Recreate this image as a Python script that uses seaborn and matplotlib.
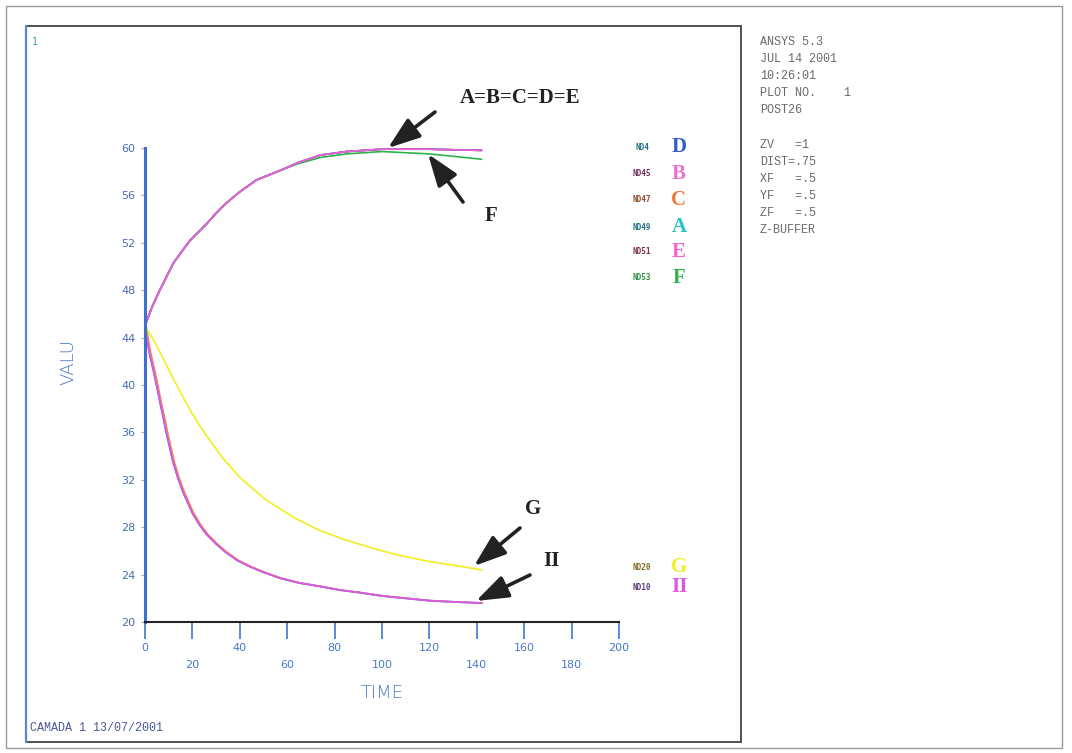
import numpy as np
import pandas as pd
import matplotlib
matplotlib.use("Agg")
import matplotlib.pyplot as plt
from matplotlib.patches import Rectangle, FancyArrowPatch
import seaborn as sns

# ---------------- data ----------------
t_up = [0, 3, 6, 9, 12, 16, 19, 23, 26, 30, 34, 40, 47, 57, 65, 74, 85, 100, 110, 120, 130, 142]
v_up = [45.0, 46.6, 47.9, 49.1, 50.3, 51.4, 52.2, 53.0, 53.6, 54.5, 55.3, 56.3, 57.3, 58.1, 58.8, 59.4, 59.7, 59.9, 59.9, 59.9, 59.85, 59.8]

t_f = [0, 3, 6, 9, 12, 16, 19, 23, 26, 30, 34, 40, 47, 57, 65, 74, 85, 100, 110, 120, 130, 142]
v_f = [45.0, 46.6, 47.9, 49.1, 50.3, 51.4, 52.2, 53.0, 53.6, 54.5, 55.3, 56.3, 57.3, 58.1, 58.7, 59.2, 59.5, 59.7, 59.6, 59.5, 59.3, 59.05]

t_g = [0, 3, 6, 9, 12, 16, 19, 23, 26, 33, 40, 51, 63, 74, 85, 100, 108, 120, 130, 142]
v_g = [45.0, 44.0, 42.9, 41.7, 40.5, 39.0, 37.9, 36.6, 35.7, 33.8, 32.2, 30.3, 28.8, 27.7, 26.9, 26.0, 25.6, 25.1, 24.8, 24.4]

t_h = [0, 1, 2, 3.5, 5, 6.3, 8, 9, 10.5, 12, 14, 16, 18, 20, 23, 26, 30, 34, 39, 44, 50, 57, 65, 74, 82, 90, 100, 110, 120, 130, 142]
v_h = [44.9, 43.7, 42.6, 41.3, 39.9, 38.6, 37.0, 36.0, 34.7, 33.4, 32.1, 31.0, 30.1, 29.2, 28.2, 27.4, 26.6, 25.9, 25.2, 24.7, 24.2, 23.7, 23.3, 23.0, 22.7, 22.5, 22.2, 22.0, 21.8, 21.7, 21.6]

series_names = ["D", "B", "C", "A", "E", "F", "G", "II"]
series_codes = ["ND4", "ND45", "ND47", "ND49", "ND51", "ND53", "ND20", "ND10"]
series_colors = ["#2f5fc4", "#f26fd2", "#f07a3a", "#22c4c4", "#f064d6", "#2fb24a", "#f2ee20", "#e056e6"]
legend_label_colors = ["#1f6f7f", "#6a3060", "#8a4a30", "#1f6f7f", "#7a3050", "#2f8f40", "#7a6a20", "#5a3a7a"]

x_ticks = list(range(0, 201, 20))
y_ticks = list(range(20, 61, 4))
y_labels = ["20", "24", "28", "32", "36", "40", "44", "48", "52", "56", "60"]
x_labels = [str(v) for v in x_ticks]

info_lines = ["ANSYS 5.3", "JUL 14 2001", "10:26:01", "PLOT NO.    1", "POST26", "",
              "ZV   =1", "DIST=.75", "XF   =.5", "YF   =.5", "ZF   =.5", "Z-BUFFER"]

# ---------------- build table ----------------
curve_src = {"D": (t_up, v_up), "B": (t_up, v_up), "C": (t_up, v_up), "A": (t_up, v_up),
             "E": (t_up, v_up), "F": (t_f, v_f), "G": (t_g, v_g), "II": (t_h, v_h)}
rows = []
for name in series_names:
    tt, vv = curve_src[name]
    for a, b in zip(tt, vv):
        rows.append({"TIME": a, "VALU": b, "series": name})
df = pd.DataFrame(rows)
palette = dict(zip(series_names, series_colors))

# ---------------- figure ----------------
sns.set_theme(style="white")
plt.rcParams["font.family"] = ["DejaVu Sans"]
W, H = 1072, 753
fig = plt.figure(figsize=(W / 100, H / 100), dpi=100)
fig.patch.set_facecolor("white")

def fx(px):
    return px / W

def fy(py):
    return 1 - py / H

# frames
fig.add_artist(Rectangle((fx(6), fy(748)), fx(1062) - fx(6), fy(6) - fy(748),
                         transform=fig.transFigure, fill=False, ec="#9a9a9a", lw=1.0))
fig.add_artist(Rectangle((fx(26), fy(742)), fx(741) - fx(26), fy(26) - fy(742),
                         transform=fig.transFigure, fill=False, ec="#333333", lw=1.2))
fig.add_artist(plt.Line2D([fx(26), fx(26)], [fy(742), fy(26)], transform=fig.transFigure,
                          color="#5a86d6", lw=1.6))

ax = fig.add_axes([fx(145), fy(622), fx(619) - fx(145), fy(148) - fy(622)])
ax.set_facecolor("none")

# shadow of the lower curve (blue / orange edges seen in the reference)
sns.lineplot(x=t_h, y=v_h, ax=ax, color="#3a6ad0", lw=1.4, legend=False, estimator=None)
sns.lineplot(x=[v + 0.6 for v in t_h], y=v_h, ax=ax, color="#f08a50", lw=1.0, legend=False,
             estimator=None)

draw_order = ["G", "II", "F", "A", "C", "B", "D", "E"]
sub = df[df["series"].isin(draw_order)]
sns.lineplot(data=sub, x="TIME", y="VALU", hue="series", hue_order=draw_order,
             palette=palette, ax=ax, legend=False, lw=1.2, estimator=None, sort=True)

ax.set_xlim(0, 200)
ax.set_ylim(20, 60)
for s in ["top", "right"]:
    ax.spines[s].set_visible(False)
ax.spines["left"].set_color("#3f6fd0")
ax.spines["left"].set_linewidth(2.2)
ax.spines["bottom"].set_color("#222222")
ax.spines["bottom"].set_linewidth(1.5)

ax.set_xticks(x_ticks)
ax.set_xticklabels([lab if i % 2 == 0 else "\n" + lab for i, lab in enumerate(x_labels)],
                   fontsize=8, color="#4a78c8", linespacing=1.9)
ax.tick_params(axis="x", bottom=True, direction="out", length=12, width=1.4,
               color="#5a8ad8", pad=3)
ax.set_yticks(y_ticks)
ax.set_yticklabels(y_labels, fontsize=8, color="#4a6ab0")
ax.tick_params(axis="y", left=True, direction="out", length=3, width=0.8, color="#aaaaaa", pad=4)
ax.set_xlabel("TIME", fontsize=13, color="#4a78c8", labelpad=10, fontweight="light")
ax.set_ylabel("")
fig.text(fx(68), fy(362), "VALU", rotation=90, fontsize=13, color="#4a78c8",
         ha="center", va="center", fontweight="light")

# legend (codes + big letters)
leg_y = [147, 174, 200, 227, 252, 278, 567, 587]
for name, code, col, lcol, py in zip(series_names, series_codes, series_colors, legend_label_colors, leg_y):
    fig.text(fx(642), fy(py), code, fontsize=5.5, color=lcol, ha="center", va="center",
             family="DejaVu Sans Mono", fontweight="bold")
    fig.text(fx(679), fy(py), name, fontsize=15, color=col, ha="center", va="center",
             family="Liberation Serif", fontweight="bold")

# annotations
arrow_kw = dict(arrowstyle="-|>,head_length=1.4,head_width=0.5", color="#222222", lw=2.6,
                shrinkA=0, shrinkB=0, mutation_scale=14)
annots = [("A=B=C=D=E", 520, 98, 435, 112, 388, 148),
          ("F", 491, 216, 463, 202, 428, 154),
          ("G", 533, 509, 520, 528, 474, 566),
          ("II", 552, 561, 530, 575, 476, 601)]
for txt, tx, ty, ax0, ay0, ax1, ay1 in annots:
    fig.text(fx(tx), fy(ty), txt, fontsize=15, color="#222222", ha="center", va="center",
             family="Liberation Serif", fontweight="bold")
    fig.add_artist(FancyArrowPatch((fx(ax0), fy(ay0)), (fx(ax1), fy(ay1)),
                                   transform=fig.transFigure, **arrow_kw))

# misc texts
fig.text(fx(35), fy(42), "1", fontsize=7, color="#3a9aa0", ha="center", va="center",
         family="DejaVu Sans Mono")
fig.text(fx(30), fy(728), "CAMADA 1 13/07/2001", fontsize=8.5, color="#4a5a9a", ha="left",
         va="center", family="Liberation Mono")
for i, line in enumerate(info_lines):
    if line:
        fig.text(fx(760), fy(42 + i * 17.1), line, fontsize=8.5, color="#6a6a6a", ha="left",
                 va="center", family="Liberation Mono")

fig.savefig("out.png", dpi=100, facecolor="white")
